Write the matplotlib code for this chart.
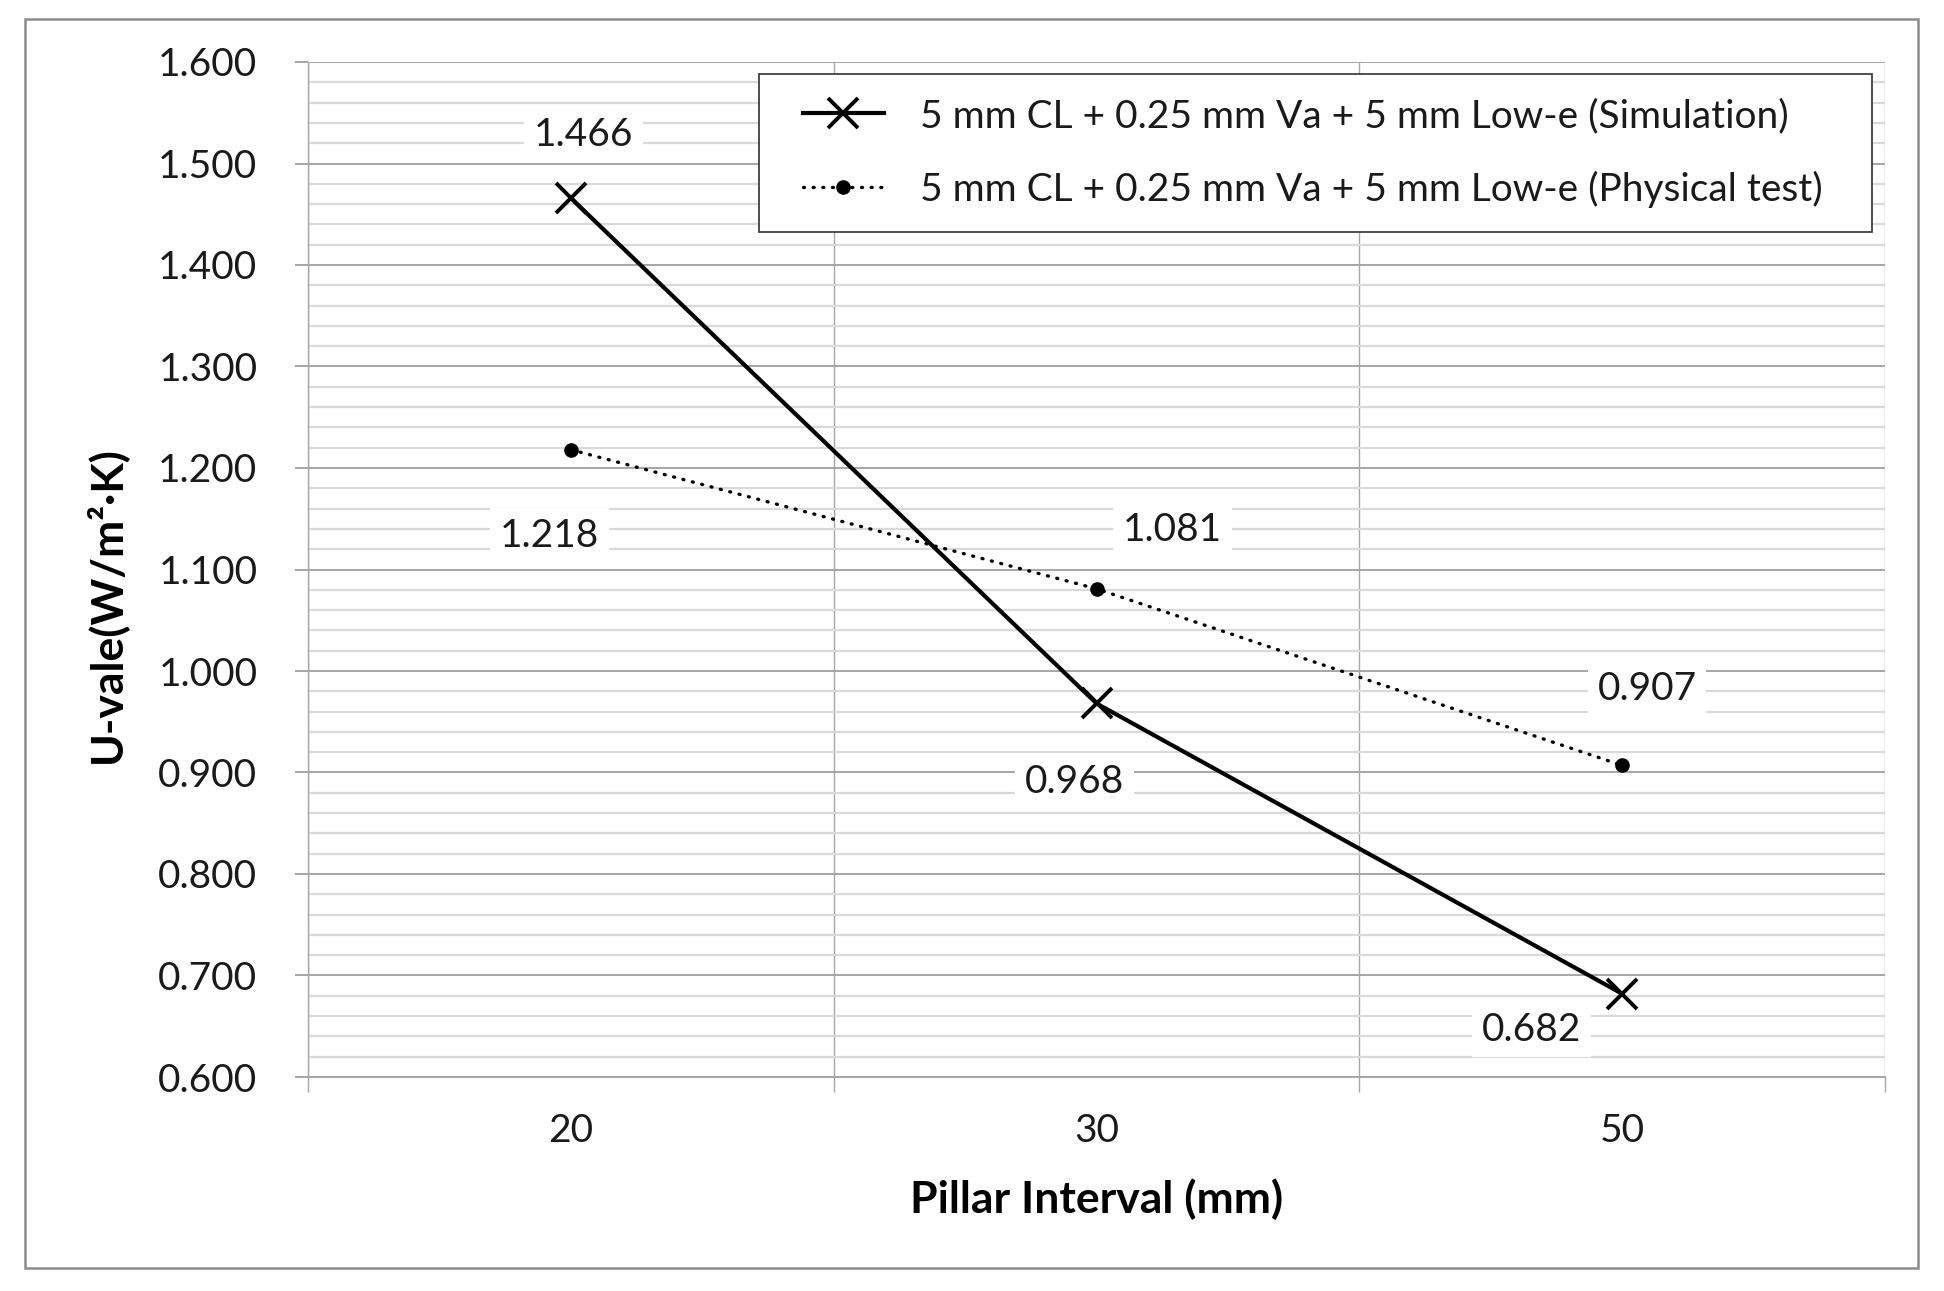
import matplotlib
matplotlib.use("Agg")
import matplotlib.pyplot as plt
from matplotlib.patches import Rectangle
from matplotlib.ticker import MultipleLocator, FixedLocator

plt.rcParams["font.family"] = ["Lato", "DejaVu Sans"]

# data
intervals = ["20", "30", "50"]
u_simulation = [1.466, 0.968, 0.682]
u_physical = [1.218, 1.081, 0.907]
label_sim = "5 mm CL + 0.25 mm Va + 5 mm Low-e (Simulation)"
label_phys = "5 mm CL + 0.25 mm Va + 5 mm Low-e (Physical test)"

# label offsets in pixels (layout only)
sim_offsets = [(13, 63), (-22, -79), (-91, -36)]
phys_offsets = [(-21, -86), (76, 59), (25, 76)]

MAJOR = "#a6a6a6"
MINOR = "#d9d9d9"
TXT = "#1a1a1a"

fig = plt.figure(figsize=(19.44, 12.91), dpi=100)
ax = fig.add_axes([308 / 1944, 1 - 1077 / 1291, 1577 / 1944, 1015 / 1291])

x = list(range(1, len(intervals) + 1))

ax.plot(x, u_simulation, color="black", lw=3.0, marker="x", markersize=22,
        markeredgewidth=2.8, label=label_sim, zorder=4)
ax.plot(x, u_physical, color="black", lw=2.4, dashes=(0.3, 2.6), dash_capstyle="round",
        marker="o", markersize=9.5, label=label_phys, zorder=4)

box = dict(boxstyle="square,pad=0.25", fc="white", ec="none")
for xi, v, off in zip(x, u_simulation, sim_offsets):
    ax.annotate(f"{v:.3f}", (xi, v), xytext=off, textcoords="offset pixels",
                ha="center", va="center", fontsize=28, color=TXT,
                bbox=box, zorder=5)
for xi, v, off in zip(x, u_physical, phys_offsets):
    ax.annotate(f"{v:.3f}", (xi, v), xytext=off, textcoords="offset pixels",
                ha="center", va="center", fontsize=28, color=TXT,
                bbox=box, zorder=5)

ax.set_xlim(0.5, len(intervals) + 0.5)
ax.set_ylim(0.6, 1.6)
ax.set_xticks(x)
ax.set_xticklabels(intervals)
ax.xaxis.set_minor_locator(FixedLocator([i + 0.5 for i in range(len(intervals) + 1)]))
ax.yaxis.set_major_locator(MultipleLocator(0.1))
ax.yaxis.set_minor_locator(MultipleLocator(0.02))
ax.yaxis.set_major_formatter(lambda v, p: f"{v:.3f}")

ax.grid(axis="y", which="minor", color=MINOR, lw=1.6, zorder=0)
ax.grid(axis="y", which="major", color=MAJOR, lw=1.4, zorder=1)
ax.grid(axis="x", which="minor", color=MAJOR, lw=1.0, zorder=1)
ax.grid(axis="x", which="major", visible=False)
ax.set_axisbelow(True)

ax.tick_params(axis="x", which="major", length=0, pad=26, labelsize=28, labelcolor=TXT)
ax.tick_params(axis="x", which="minor", length=11, width=1.0, color=MAJOR, direction="out")
ax.tick_params(axis="y", which="major", length=9.4, width=1.4, color=MAJOR, pad=27,
               labelsize=28, labelcolor=TXT)
ax.tick_params(axis="y", which="minor", length=0)

for side in ["top", "right"]:
    ax.spines[side].set_visible(False)
ax.spines["left"].set_color(MAJOR)
ax.spines["left"].set_linewidth(1.0)
ax.spines["bottom"].set_color(MAJOR)
ax.spines["bottom"].set_linewidth(1.4)

ax.set_xlabel("Pillar Interval (mm)", fontsize=32, fontweight="bold", va="center")
ax.xaxis.set_label_coords(0.5, -0.12)
ax.set_ylabel("U-vale(W/m²·K)", fontsize=32, fontweight="bold", va="center")
ax.yaxis.set_label_coords(-0.1287, 0.465)

# legend box drawn separately so the padding can differ per side
ax.add_patch(Rectangle((0.2863, 0.8325), 0.7055, 0.1552, transform=ax.transAxes,
                       facecolor="white", edgecolor="#404040", lw=1.3,
                       clip_on=False, zorder=6))
leg = ax.legend(loc="center left", bbox_to_anchor=(0.3139, 0.9103), borderaxespad=0,
                fontsize=28, frameon=False, handlelength=2.08, borderpad=0,
                labelspacing=0.95, handletextpad=0.93)
leg.set_zorder(7)
for t in leg.get_texts():
    t.set_color(TXT)

fig.patches.append(Rectangle((25 / 1944, 1 - 1268 / 1291), 1893 / 1944, 1249 / 1291,
                             transform=fig.transFigure, fill=False,
                             edgecolor="#8c8c8c", lw=1.8))

fig.savefig("out.png", dpi=100)
